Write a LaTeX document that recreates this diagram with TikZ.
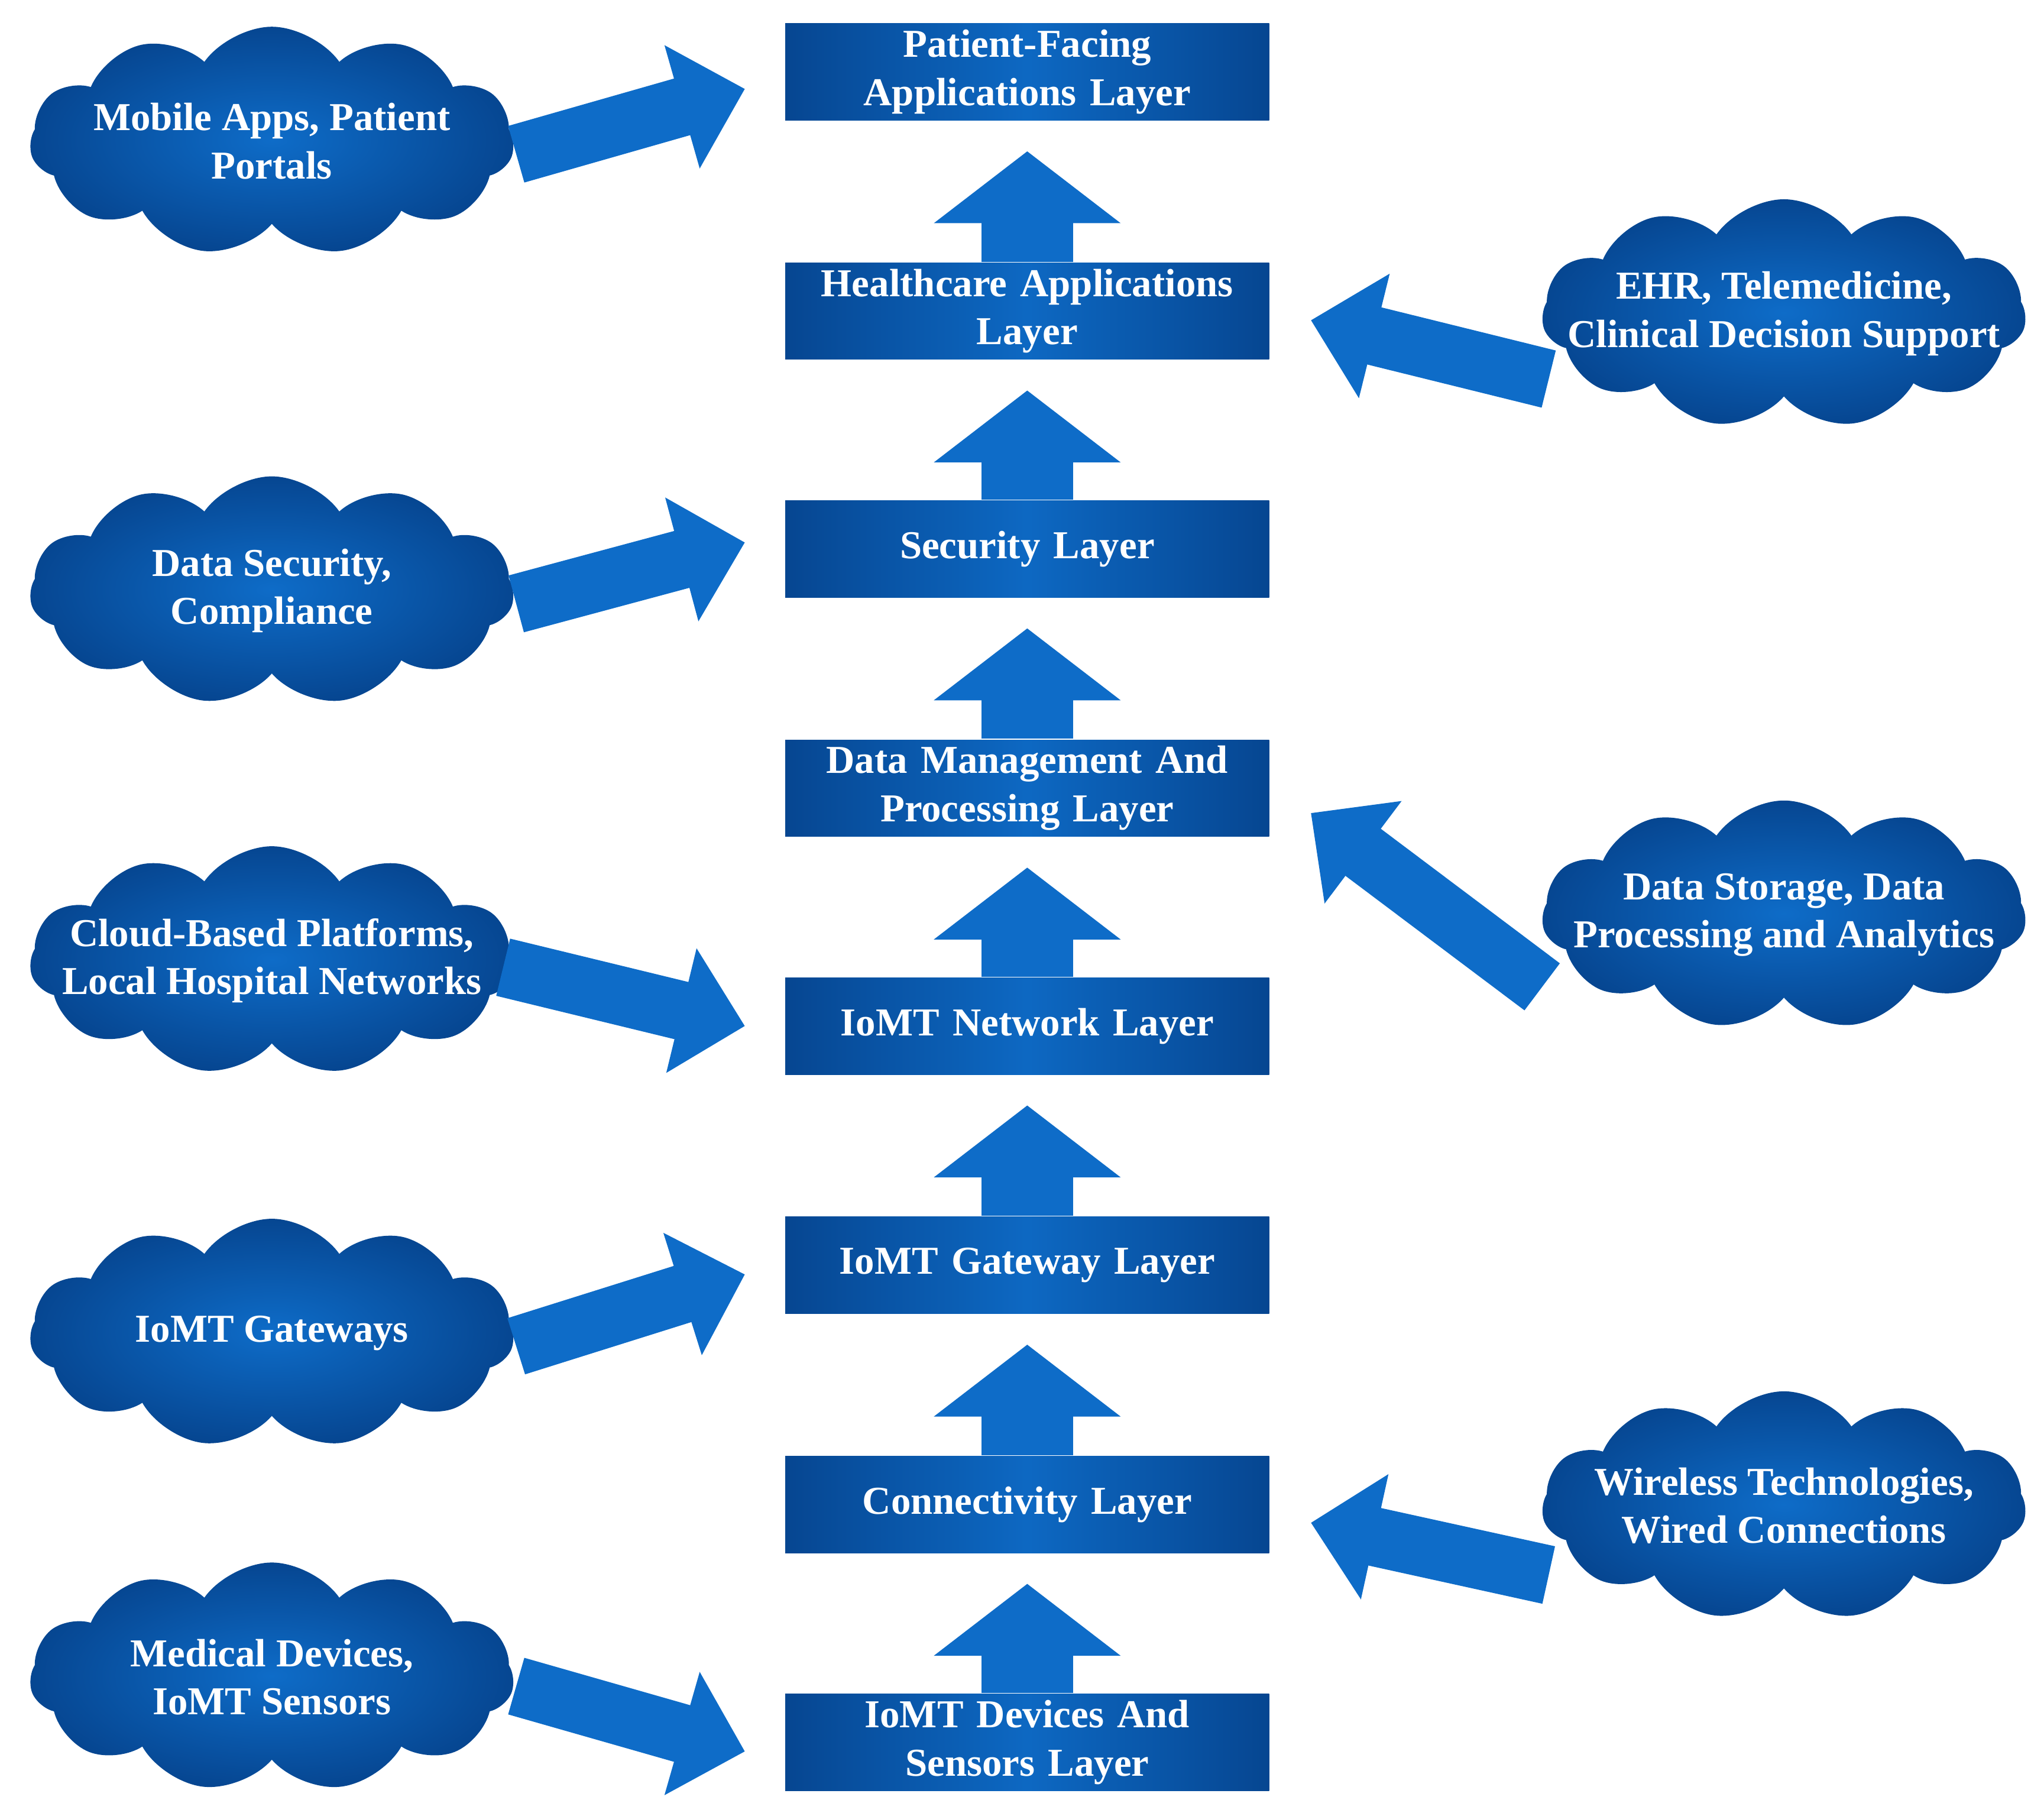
\documentclass[tikz,border=0pt]{standalone}
\usepackage{fontspec}
\setmainfont{Liberation Serif}
\usetikzlibrary{shapes.symbols,arrows.meta,calc}
\definecolor{dblue}{RGB}{6,70,145}
\definecolor{lblue}{RGB}{14,108,200}
\tikzset{
  layer/.style={draw=none, left color=dblue, right color=dblue, middle color=lblue!90!dblue,
    minimum width=3.7cm, minimum height=0.74cm, text width=3.6cm, inner sep=1pt, align=center,
    font=\bfseries\fontsize{8.6}{10.5}\selectfont, text=white},
  topic/.style={cloud, cloud puffs=11, cloud puff arc=110, draw=none, inner sep=0pt,
    inner color=lblue, outer color=dblue, minimum width=3.7cm, minimum height=1.75cm},
  topictext/.style={align=center, font=\bfseries\fontsize{8.6}{10.5}\selectfont, text=white},
  uparr/.style={draw=lblue, line width=0.7cm, -{Triangle[width=1.4cm,length=0.55cm]}},
  fatarr/.style={draw=lblue, line width=0.45cm, -{Triangle[width=0.95cm,length=0.5cm]}},
}
\begin{document}
\begin{tikzpicture}[x=0.01cm,y=-0.01cm]
\useasboundingbox (0,0) rectangle (1564,1387);
% layers
\node[layer] (pat) at (786,55) {Patient-Facing\\Applications Layer};
\node[layer] (hca) at (786,238) {Healthcare Applications\\Layer};
\node[layer] (sec) at (786,420) {Security Layer};
\node[layer] (dmp) at (786,603) {Data Management And\\Processing Layer};
\node[layer] (net) at (786,785) {IoMT Network Layer};
\node[layer] (gw) at (786,968) {IoMT Gateway Layer};
\node[layer] (con) at (786,1151) {Connectivity Layer};
\node[layer] (dev) at (786,1333) {IoMT Devices And\\Sensors Layer};
% upward arrows
\foreach \a/\b in {dev/con, con/gw, gw/net, net/dmp, dmp/sec, sec/hca, hca/pat}
  \draw[uparr] (\a.north) -- ($(\b.south)+(0,23)$);
% clouds
\node[topic] (mob) at (208,108) {};
\node[topic] (dsc) at (208,452) {};
\node[topic] (cld) at (208,735) {};
\node[topic] (igw) at (208,1020) {};
\node[topic] (med) at (208,1283) {};
\node[topic] (ehr) at (1365,240) {};
\node[topic] (dst) at (1365,700) {};
\node[topic] (wir) at (1365,1152) {};
% side arrows
\coordinate (t1) at (570,68);
\coordinate (t2) at (570,415);
\coordinate (t3) at (570,785);
\coordinate (t4) at (570,975);
\coordinate (t5) at (570,1340);
\coordinate (t6) at (1003,245);
\coordinate (t7) at (1003,622);
\coordinate (t8) at (1003,1165);
\draw[fatarr] ($(mob)+(187,10)$) -- (t1);
\draw[fatarr] ($(dsc)+(187,10)$) -- (t2);
\draw[fatarr] ($(cld)+(177,5)$) -- (t3);
\draw[fatarr] ($(igw)+(187,10)$) -- (t4);
\draw[fatarr] ($(med)+(187,7)$) -- (t5);
\draw[fatarr] ($(ehr)+(-180,50)$) -- (t6);
\draw[fatarr] ($(dst)+(-185,55)$) -- (t7);
\draw[fatarr] ($(wir)+(-180,53)$) -- (t8);
% cloud texts
\node[topictext] (mobt) at (mob) {Mobile Apps, Patient\\Portals};
\node[topictext] (dsct) at (dsc) {Data Security,\\Compliance};
\node[topictext] (cldt) at (cld) {Cloud-Based Platforms,\\Local Hospital Networks};
\node[topictext] (igwt) at (igw) {IoMT Gateways};
\node[topictext] (medt) at (med) {Medical Devices,\\IoMT Sensors};
\node[topictext] (ehrt) at (ehr) {EHR, Telemedicine,\\Clinical Decision Support};
\node[topictext] (dstt) at (dst) {Data Storage, Data\\Processing and Analytics};
\node[topictext] (wirt) at (wir) {Wireless Technologies,\\Wired Connections};
\end{tikzpicture}
\end{document}
